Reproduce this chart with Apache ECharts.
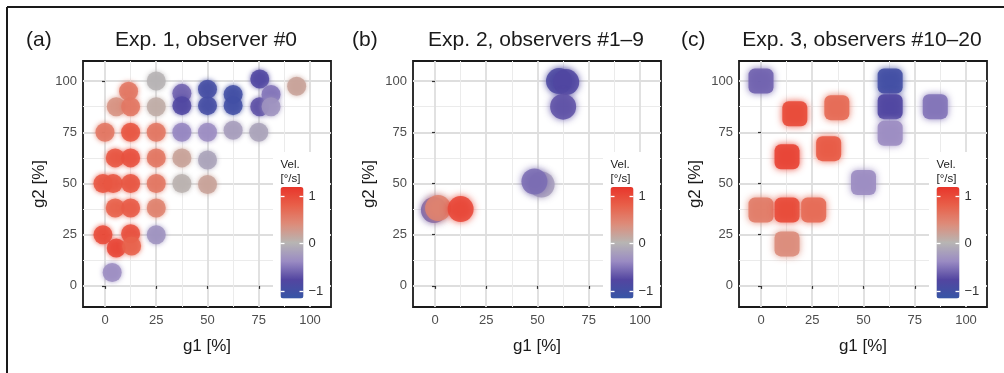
<!DOCTYPE html>
<html>
<head>
<meta charset="utf-8">
<script src="https://cdn.jsdelivr.net/npm/echarts@6/dist/echarts.min.js"></script>
<style>
  html, body { margin: 0; padding: 0; background: #fff; }
  #chart { width: 1004px; height: 373px; }
</style>
</head>
<body>
<div id="chart"></div>
<script>
// panel (a) - Exp. 1, observer #0
const expA_g1 = [25, 37.5, 37.5, 50, 50, 62.5, 62.5, 75.5, 75.5, 81, 81, 93.5, 11.5, 5.5, 12.5, 25,
  0, 12.5, 25, 37.5, 50, 62.5, 75, 5, 12.5, 25, 37.5, 50, -1, 4, 12.5, 25, 37.5, 50,
  5, 12.5, 25, -1, 12.5, 25, 5.5, 13, 3.5]
const expA_g2 = [100, 94, 88, 96, 88, 93.5, 88, 101, 87.5, 93.5, 87.5, 97.5, 95, 87.5, 87.5, 87.5,
  75, 75, 75, 75, 75, 76, 75, 62.5, 62.5, 62.5, 62.5, 61.5, 50, 50, 50, 50, 50, 49.5,
  38, 38, 38, 25, 25.5, 25, 18.5, 19.5, 6.5]
const expA_vel = [0, -0.6, -0.8, -0.95, -0.95, -1.0, -1.0, -0.8, -0.7, -0.5, -0.3, 0.2, 0.6, 0.35, 0.6, 0.1,
  0.6, 0.9, 0.6, -0.4, -0.35, -0.2, -0.15, 0.9, 0.95, 0.6, 0.2, -0.15, 0.9, 0.9, 0.9, 0.6, 0.05, 0.2,
  0.8, 0.85, 0.5, 1.0, 0.95, -0.3, 1.05, 0.8, -0.35]

// panel (b) - Exp. 2, observers #1-9
const expB_g1 = [60.5, 64, 62.5, 52, 48.5, -0.5, 1.5, 12.5]
const expB_g2 = [100, 99.5, 87.5, 49.5, 51, 37, 38, 37.5]
const expB_vel = [-0.85, -0.8, -0.7, -0.2, -0.55, -0.6, 0.5, 1.05]

// panel (c) - Exp. 3, observers #10-20
const expC_g1 = [0, 16.5, 37, 63, 63, 63, 85, 12.7, 33, 50, 0, 12.7, 25.7, 12.7]
const expC_g2 = [100, 84, 87, 100, 87.5, 74.5, 87.5, 63, 67, 50.5, 37, 37, 37, 20.5]
const expC_vel = [-0.6, 1.0, 0.7, -1.0, -0.8, -0.35, -0.5, 1.05, 0.85, -0.35, 0.55, 1.0, 0.7, 0.4]

const axisTicks = [0, 25, 50, 75, 100]
const minorTicks = [12.5, 37.5, 62.5, 87.5]
const velTicks = [-1, 0, 1]
const velMin = -1.16
const velMax = 1.2
const velColors = ["#3756a6", "#5245a0", "#9a8bc3", "#b7b5b3", "#dd8c7a", "#e8604a", "#e8352a"]

const panelLetters = ["(a)", "(b)", "(c)"]
const panelTitles = ["Exp. 1, observer #0", "Exp. 2, observers #1\u20139", "Exp. 3, observers #10\u201320"]

const FONT = "'Liberation Sans', Arial, Helvetica, sans-serif"
const GRID_LEFT = [83, 413, 739]
const GRID_TOP = 61
const GRID_W = 248
const GRID_H = 246
const X_MIN = -10.73, X_MAX = 110.24
const Y_MIN = -10.3, Y_MAX = 109.8

function hexToRgb(h) {
  return [1, 3, 5].map((i) => parseInt(h.slice(i, i + 2), 16))
}

// same colour ramp as the visualMap, used for the soft edge of each blob
function velColor(v) {
  const t = Math.min(1, Math.max(0, (v - velMin) / (velMax - velMin))) * (velColors.length - 1)
  const i = Math.min(velColors.length - 2, Math.floor(t))
  const f = t - i
  const a = hexToRgb(velColors[i]), b = hexToRgb(velColors[i + 1])
  const c = a.map((x, k) => Math.round(x + (b[k] - x) * f))
  return `rgb(${c[0]},${c[1]},${c[2]})`
}

const panels = [
  { g1: expA_g1, g2: expA_g2, vel: expA_vel, symbol: "circle", size: 19, blur: 5, opacity: 0.85 },
  { g1: expB_g1, g2: expB_g2, vel: expB_vel, symbol: "circle", size: 26, blur: 7, opacity: 0.85 },
  { g1: expC_g1, g2: expC_g2, vel: expC_vel, symbol: "roundRect", size: 25, blur: 7, opacity: 0.9 },
]

const fmtVel = (v) => (v < 0 ? "\u2212" + Math.abs(v) : String(v))

const grids = []
const xAxes = []
const yAxes = []
const series = []
const visualMaps = []
const graphics = []

panels.forEach((p, i) => {
  const left = GRID_LEFT[i]
  const gi = grids.length
  const xi = xAxes.length
  const yi = yAxes.length
  grids.push({
    left, top: GRID_TOP, width: GRID_W, height: GRID_H,
    show: true, backgroundColor: "#fff", borderColor: "#1a1a1a", borderWidth: 1.8,
  })
  // major axis
  xAxes.push({
    gridIndex: gi, type: "value", min: X_MIN, max: X_MAX, position: "bottom",
    axisLine: { show: false },
    axisTick: { customValues: axisTicks, length: 3, lineStyle: { color: "#333", width: 1.2 } },
    axisLabel: { customValues: axisTicks, color: "#4d4d4d", fontSize: 13, margin: 7, fontFamily: FONT },
    splitLine: { lineStyle: { color: "#dedede", width: 1.8 } },
    name: "g1 [%]", nameLocation: "middle", nameGap: 31,
    nameTextStyle: { fontSize: 17, color: "#1a1a1a", fontFamily: FONT },
  })
  // minor grid lines
  xAxes.push({
    gridIndex: gi, type: "value", min: X_MIN, max: X_MAX, position: "top",
    axisLine: { show: false },
    axisTick: { show: false, customValues: minorTicks },
    axisLabel: { show: false },
    splitLine: { lineStyle: { color: "#ebebeb", width: 1 } },
  })
  yAxes.push({
    gridIndex: gi, type: "value", min: Y_MIN, max: Y_MAX, position: "left",
    axisLine: { show: false },
    axisTick: { customValues: axisTicks, length: 3, lineStyle: { color: "#333", width: 1.2 } },
    axisLabel: { customValues: axisTicks, color: "#4d4d4d", fontSize: 13, margin: 6, fontFamily: FONT },
    splitLine: { lineStyle: { color: "#dedede", width: 1.8 } },
    name: "g2 [%]", nameLocation: "middle", nameGap: 35,
    nameTextStyle: { fontSize: 17, color: "#1a1a1a", fontFamily: FONT },
  })
  yAxes.push({
    gridIndex: gi, type: "value", min: Y_MIN, max: Y_MAX, position: "right",
    axisLine: { show: false },
    axisTick: { show: false, customValues: minorTicks },
    axisLabel: { show: false },
    splitLine: { lineStyle: { color: "#ebebeb", width: 1 } },
  })

  series.push({
    type: "scatter",
    xAxisIndex: xi,
    yAxisIndex: yi,
    symbol: p.symbol,
    symbolSize: p.size,
    z: 3,
    itemStyle: { opacity: p.opacity, shadowBlur: p.blur },
    data: p.g1.map((x, k) => ({
      value: [x, p.g2[k], p.vel[k]],
      itemStyle: { shadowColor: velColor(p.vel[k]) },
    })),
  })

  const barLeft = left + GRID_W - 50.5
  visualMaps.push({
    type: "continuous", seriesIndex: i, dimension: 2,
    min: velMin, max: velMax, calculable: false, hoverLink: false,
    orient: "vertical", left: barLeft, top: 187, itemWidth: 23, itemHeight: 111.5,
    padding: 0, text: null, showLabel: false,
    inRange: { color: velColors },
  })

  // colour bar tick labels and white dashes
  const cg = grids.length
  grids.push({ left: barLeft, top: 187, width: 23, height: 111.5, show: false })
  xAxes.push({ gridIndex: cg, type: "value", show: false })
  yAxes.push({
    gridIndex: cg, type: "value", min: velMin, max: velMax, position: "left", z: 10,
    axisLine: { show: false },
    axisTick: { inside: true, customValues: velTicks, length: 4, lineStyle: { color: "#fff", width: 1.3 } },
    axisLabel: { show: false },
    splitLine: { show: false },
  })
  yAxes.push({
    gridIndex: cg, type: "value", min: velMin, max: velMax, position: "right", z: 10,
    axisLine: { show: false },
    axisTick: { inside: true, customValues: velTicks, length: 4, lineStyle: { color: "#fff", width: 1.3 } },
    axisLabel: { customValues: velTicks, formatter: fmtVel, color: "#333", fontSize: 13, margin: 5, fontFamily: FONT },
    splitLine: { show: false },
  })

  // legend background, covers the grid lines
  graphics.push({
    type: "rect", z: 1,
    shape: { x: left + 190, y: 152, width: GRID_W - 190 - 1, height: GRID_TOP + GRID_H - 152 - 1 },
    style: { fill: "#fff" },
  })
  graphics.push({
    type: "text", z: 6, x: barLeft, y: 158,
    style: { text: "Vel.\n[\u00b0/s]", fontSize: 11.5, lineHeight: 14, fill: "#1a1a1a", fontFamily: FONT },
  })
  // panel letter and title
  graphics.push({
    type: "text", z: 6, x: [26, 352, 681][i], y: 40,
    style: { text: panelLetters[i], fontSize: 21, fill: "#1a1a1a", fontFamily: FONT, verticalAlign: "middle" },
  })
  graphics.push({
    type: "text", z: 6, x: left + GRID_W / 2 - 1, y: 40,
    style: { text: panelTitles[i], fontSize: 21, fill: "#1a1a1a", fontFamily: FONT, align: "center", verticalAlign: "middle" },
  })
})

// outer frame (top and left edges only)
graphics.push({ type: "line", z: 6, shape: { x1: 7, y1: 7, x2: 1004, y2: 7 }, style: { stroke: "#1a1a1a", lineWidth: 2 } })
graphics.push({ type: "line", z: 6, shape: { x1: 7, y1: 7, x2: 7, y2: 373 }, style: { stroke: "#1a1a1a", lineWidth: 2 } })

const chart = echarts.init(document.getElementById("chart"))
chart.setOption({
  backgroundColor: "#fff",
  animation: false,
  textStyle: { fontFamily: FONT },
  grid: grids,
  xAxis: xAxes,
  yAxis: yAxes,
  visualMap: visualMaps,
  series,
  graphic: graphics,
})
</script>
</body>
</html>
